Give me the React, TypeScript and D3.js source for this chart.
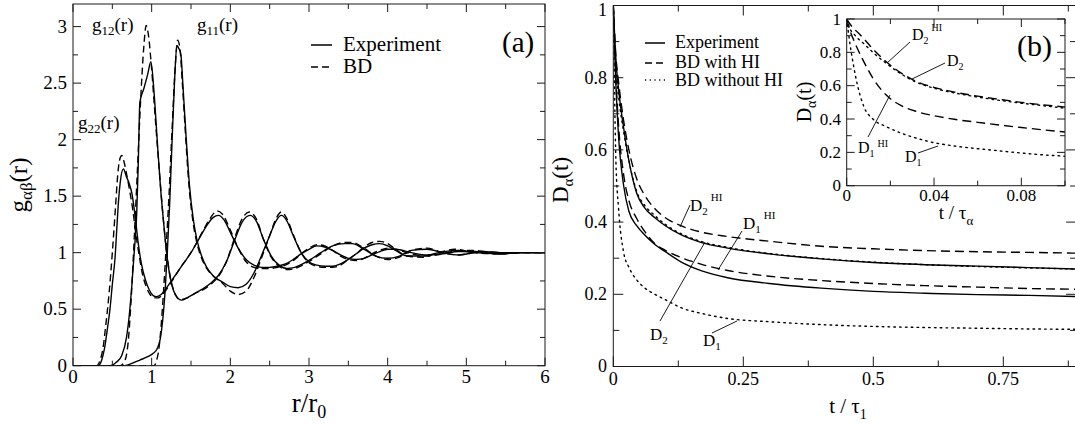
import * as d3 from "d3";

const serif = "'Liberation Serif', Tinos, 'Times New Roman', 'DejaVu Serif', serif";

// ---------- panel (a): partial pair correlations g_ab(r) vs r/r0 ----------
const g22Exp = [[0,0],[0.32,0],[0.36,0.04],[0.4,0.15],[0.44,0.34],[0.47,0.5],[0.5,0.72],[0.535,0.96],[0.56,1.25],[0.58,1.47],[0.6,1.62],[0.64,1.74],[0.68,1.67],[0.71,1.62],[0.75,1.52],[0.79,1.32],[0.83,1.08],[0.87,0.9],[0.92,0.76],[0.97,0.67],[1.02,0.62],[1.06,0.61],[1.12,0.63],[1.2,0.7],[1.3,0.8],[1.4,0.9],[1.5,1.0],[1.6,1.12],[1.7,1.24],[1.78,1.31],[1.85,1.33],[1.92,1.29],[2.0,1.18],[2.1,1.04],[2.2,0.94],[2.3,0.89],[2.4,0.87],[2.5,0.87],[2.6,0.88],[2.7,0.9],[2.8,0.94],[2.9,0.99],[3.0,1.03],[3.1,1.06],[3.2,1.05],[3.3,1.02],[3.4,0.98],[3.5,0.95],[3.6,0.94],[3.7,0.95],[3.8,0.98],[3.9,1.01],[4.0,1.03],[4.1,1.03],[4.3,1.0],[4.5,0.98],[4.7,0.99],[4.9,1.01],[5.1,1.01],[5.4,0.99],[5.7,1.0],[6,1.0]];
const g22BD = [[0,0],[0.3,0],[0.34,0.04],[0.38,0.15],[0.42,0.38],[0.46,0.65],[0.5,1.0],[0.54,1.4],[0.57,1.7],[0.6,1.84],[0.62,1.86],[0.65,1.8],[0.68,1.7],[0.72,1.55],[0.76,1.38],[0.8,1.16],[0.84,0.98],[0.88,0.82],[0.93,0.7],[0.98,0.63],[1.03,0.6],[1.08,0.6],[1.15,0.64],[1.25,0.74],[1.35,0.85],[1.45,0.95],[1.55,1.06],[1.65,1.19],[1.75,1.31],[1.83,1.37],[1.9,1.34],[2.0,1.2],[2.1,1.04],[2.2,0.92],[2.3,0.87],[2.4,0.86],[2.5,0.86],[2.6,0.87],[2.7,0.89],[2.8,0.93],[2.9,0.99],[3.0,1.04],[3.1,1.07],[3.2,1.06],[3.3,1.02],[3.4,0.97],[3.5,0.94],[3.6,0.93],[3.7,0.95],[3.8,0.99],[3.9,1.02],[4.0,1.04],[4.1,1.03],[4.3,0.99],[4.5,0.97],[4.7,0.99],[4.9,1.02],[5.1,1.02],[5.4,0.99],[5.7,1.0],[6,1.0]];
const g12Exp = [[0,0],[0.47,0],[0.55,0.03],[0.62,0.09],[0.68,0.25],[0.72,0.48],[0.75,0.73],[0.78,1.02],[0.81,1.35],[0.83,1.8],[0.85,2.33],[0.9,2.45],[0.95,2.58],[0.99,2.69],[1.03,2.42],[1.07,2.0],[1.11,1.6],[1.15,1.28],[1.19,1.0],[1.23,0.8],[1.28,0.66],[1.33,0.6],[1.38,0.58],[1.45,0.6],[1.55,0.64],[1.65,0.68],[1.75,0.73],[1.85,0.8],[1.95,0.92],[2.05,1.1],[2.15,1.27],[2.25,1.33],[2.33,1.28],[2.42,1.12],[2.52,0.97],[2.62,0.89],[2.72,0.86],[2.82,0.87],[2.92,0.9],[3.02,0.94],[3.15,1.0],[3.3,1.06],[3.45,1.08],[3.55,1.08],[3.7,1.03],[3.85,0.97],[4.0,0.95],[4.15,0.97],[4.3,1.02],[4.5,1.03],[4.7,1.0],[4.9,0.98],[5.2,1.01],[5.5,1.0],[6,1.0]];
const g12BD = [[0,0],[0.6,0],[0.65,0.03],[0.7,0.2],[0.74,0.6],[0.78,1.15],[0.82,1.75],[0.86,2.35],[0.9,2.82],[0.93,3.01],[0.96,2.92],[1.0,2.62],[1.05,2.15],[1.1,1.7],[1.15,1.28],[1.2,0.95],[1.25,0.74],[1.3,0.63],[1.36,0.585],[1.45,0.6],[1.55,0.64],[1.65,0.67],[1.75,0.72],[1.85,0.79],[1.95,0.92],[2.05,1.12],[2.15,1.3],[2.24,1.36],[2.33,1.3],[2.42,1.12],[2.52,0.96],[2.62,0.88],[2.72,0.85],[2.82,0.86],[2.92,0.89],[3.02,0.93],[3.15,0.99],[3.3,1.06],[3.45,1.09],[3.55,1.09],[3.7,1.04],[3.85,0.97],[4.0,0.94],[4.15,0.96],[4.3,1.02],[4.5,1.04],[4.7,1.0],[4.9,0.98],[5.2,1.01],[5.5,1.0],[6,1.0]];
const g11Exp = [[0,0],[0.66,0],[0.75,0.02],[0.85,0.05],[0.95,0.08],[1.02,0.11],[1.07,0.15],[1.11,0.24],[1.14,0.4],[1.17,0.65],[1.2,1.02],[1.23,1.45],[1.26,2.0],[1.29,2.5],[1.32,2.83],[1.35,2.8],[1.37,2.76],[1.4,2.45],[1.44,2.0],[1.48,1.6],[1.53,1.29],[1.58,1.1],[1.63,0.98],[1.7,0.87],[1.79,0.79],[1.9,0.74],[2.0,0.7],[2.1,0.69],[2.2,0.72],[2.3,0.82],[2.4,0.98],[2.5,1.15],[2.58,1.28],[2.65,1.33],[2.72,1.28],[2.8,1.15],[2.9,1.0],[3.0,0.92],[3.1,0.89],[3.2,0.88],[3.3,0.88],[3.4,0.9],[3.5,0.94],[3.6,0.99],[3.7,1.04],[3.8,1.07],[3.9,1.08],[4.0,1.06],[4.1,1.02],[4.25,0.97],[4.45,0.97],[4.65,1.0],[4.85,1.02],[5.1,1.0],[5.4,0.99],[5.7,1.0],[6,1.0]];
const g11BD = [[0,0],[1.03,0],[1.06,0.04],[1.09,0.14],[1.12,0.35],[1.15,0.65],[1.18,1.0],[1.22,1.5],[1.26,2.1],[1.3,2.65],[1.33,2.88],[1.36,2.8],[1.39,2.5],[1.43,2.05],[1.47,1.63],[1.52,1.3],[1.57,1.1],[1.63,0.96],[1.7,0.86],[1.79,0.79],[1.9,0.73],[2.0,0.66],[2.1,0.63],[2.2,0.66],[2.3,0.78],[2.4,0.96],[2.5,1.15],[2.58,1.3],[2.65,1.36],[2.72,1.3],[2.8,1.16],[2.9,1.0],[3.0,0.91],[3.1,0.88],[3.2,0.87],[3.3,0.87],[3.4,0.89],[3.5,0.94],[3.6,0.99],[3.7,1.05],[3.8,1.09],[3.9,1.1],[4.0,1.08],[4.1,1.03],[4.25,0.97],[4.45,0.96],[4.65,1.0],[4.85,1.03],[5.1,1.0],[5.4,0.99],[5.7,1.0],[6,1.0]];

// ---------- panel (b): D_a(t) vs t/tau1 ----------
const tMain = [0, 0.005, 0.01, 0.02, 0.03, 0.045, 0.06, 0.08, 0.1, 0.13, 0.17, 0.22, 0.3, 0.4, 0.5, 0.6, 0.7, 0.8, 0.89];
const d2Exp   = [1, 0.85, 0.77, 0.66, 0.57, 0.48, 0.44, 0.412, 0.39, 0.365, 0.343, 0.328, 0.312, 0.298, 0.288, 0.282, 0.278, 0.274, 0.27];
const d2HI    = [1, 0.86, 0.79, 0.68, 0.6, 0.52, 0.475, 0.437, 0.412, 0.39, 0.372, 0.36, 0.347, 0.333, 0.326, 0.321, 0.318, 0.316, 0.314];
const d2NoHI  = [1, 0.83, 0.75, 0.65, 0.57, 0.485, 0.447, 0.418, 0.394, 0.368, 0.346, 0.33, 0.313, 0.299, 0.289, 0.282, 0.277, 0.273, 0.27];
const d1Exp   = [1, 0.78, 0.64, 0.5, 0.43, 0.39, 0.365, 0.338, 0.318, 0.29, 0.265, 0.246, 0.23, 0.217, 0.208, 0.203, 0.199, 0.197, 0.194];
const d1HI    = [1, 0.8, 0.67, 0.53, 0.46, 0.41, 0.375, 0.34, 0.322, 0.302, 0.283, 0.266, 0.25, 0.238, 0.23, 0.224, 0.22, 0.216, 0.214];
const d1NoHI  = [1, 0.57, 0.44, 0.315, 0.275, 0.24, 0.218, 0.2, 0.185, 0.163, 0.147, 0.133, 0.124, 0.116, 0.111, 0.108, 0.106, 0.104, 0.103];

// inset: D_a(t) vs t/tau_a
const tInset = [0, 0.0015, 0.003, 0.005, 0.008, 0.012, 0.018, 0.025, 0.032, 0.04, 0.05, 0.06, 0.07, 0.08, 0.09, 0.1];
const in2HI   = [1, 0.97, 0.945, 0.92, 0.88, 0.82, 0.745, 0.675, 0.625, 0.59, 0.56, 0.537, 0.518, 0.5, 0.485, 0.472];
const in2NoHI = [1, 0.94, 0.915, 0.885, 0.85, 0.8, 0.735, 0.67, 0.62, 0.585, 0.555, 0.532, 0.512, 0.495, 0.48, 0.465];
const in1HI   = [1, 0.93, 0.88, 0.82, 0.74, 0.645, 0.545, 0.48, 0.445, 0.42, 0.397, 0.38, 0.364, 0.349, 0.335, 0.322];
const in1NoHI = [1, 0.85, 0.73, 0.6, 0.47, 0.4, 0.355, 0.315, 0.285, 0.258, 0.237, 0.222, 0.209, 0.196, 0.185, 0.177];

const aXLabels = [0, 1, 2, 3, 4, 5, 6];
const aYLabels = [0, 0.5, 1, 1.5, 2, 2.5, 3];
const bXLabels = [0, 0.25, 0.5, 0.75];
const bYLabels = [0, 0.2, 0.4, 0.6, 0.8, 1];
const iXLabels = [0, 0.04, 0.08];
const iYLabels = [0, 0.2, 0.4, 0.6, 0.8, 1];

const SOLID = undefined;
const DASH_A = "7,4";
const DASH_B = "9,5";
const DOT = "1.6,4.2";

const pair = (ts, ds) => ts.map((t, i) => [t, ds[i]]);

// box with inward ticks on all four sides
function Frame({ x, y, xMaj, xMin, yMaj, yMin, lMaj, lMin }) {
  const [l, r] = x.range();
  const [b, t] = y.range();
  const segs = [];
  const addX = (vals, len) => vals.forEach(v => {
    const px = x(v);
    segs.push([px, b, px, b - len], [px, t, px, t + len]);
  });
  const addY = (vals, len) => vals.forEach(v => {
    const py = y(v);
    segs.push([l, py, l + len, py], [r, py, r - len, py]);
  });
  addX(xMin, lMin); addX(xMaj, lMaj);
  addY(yMin, lMin); addY(yMaj, lMaj);
  return (
    <g stroke="#1a1a1a" strokeWidth={1} fill="none">
      {segs.map((s, i) => <line key={i} x1={s[0]} y1={s[1]} x2={s[2]} y2={s[3]} />)}
      <rect x={l} y={t} width={r - l} height={b - t} />
    </g>
  );
}

export default function App() {
  // panel (a)
  const ax = d3.scaleLinear().domain([0, 6]).range([73, 545]);
  const ay = d3.scaleLinear().domain([0, 3.2]).range([365.7, 4]);
  const lineA = d3.line().x(d => ax(d[0])).y(d => ay(d[1])).curve(d3.curveMonotoneX);

  // panel (b)
  const bx = d3.scaleLinear().domain([0, 0.89]).range([613.3, 1076.1]);
  const by = d3.scaleLinear().domain([0, 1]).range([366.5, 5.5]);
  const lineB = d3.line().x(d => bx(d[0])).y(d => by(d[1])).curve(d3.curveMonotoneX);

  // inset
  const ix = d3.scaleLinear().domain([0, 0.1]).range([846.7, 1065]);
  const iy = d3.scaleLinear().domain([0, 1]).range([185.7, 19]);
  const lineI = d3.line().x(d => ix(d[0])).y(d => iy(d[1])).curve(d3.curveMonotoneX);

  const curvesA = [
    [g22BD, DASH_A], [g12BD, DASH_A], [g11BD, DASH_A],
    [g22Exp, SOLID], [g12Exp, SOLID], [g11Exp, SOLID],
  ];
  const curvesB = [
    [d2NoHI, DOT], [d1NoHI, DOT],
    [d2HI, DASH_B], [d1HI, DASH_B],
    [d2Exp, SOLID], [d1Exp, SOLID],
  ];
  const curvesI = [
    [in2NoHI, DOT], [in1NoHI, DOT], [in2HI, DASH_B], [in1HI, DASH_B],
  ];

  const fmt = v => String(v);

  return (
    <svg width={1075} height={425}
      style={{ position: "absolute", left: 0, top: 0, background: "#fff", fontFamily: serif }}>
      <defs>
        <clipPath id="clipA"><rect x={73} y={4} width={472} height={361.7} /></clipPath>
        <clipPath id="clipB"><rect x={613.3} y={5.5} width={462.8} height={361} /></clipPath>
        <clipPath id="clipI"><rect x={846.7} y={19} width={218.3} height={166.7} /></clipPath>
      </defs>

      {/* ================= panel (a) ================= */}
      <g clipPath="url(#clipA)" fill="none" stroke="#000" strokeWidth={1.4}>
        {curvesA.map(([d, dash], i) => (
          <path key={i} d={lineA(d)} strokeDasharray={dash} strokeLinejoin="round" />
        ))}
      </g>
      <Frame x={ax} y={ay}
        xMaj={aXLabels} xMin={d3.range(0.5, 6, 1)}
        yMaj={aYLabels} yMin={d3.range(0.25, 3.2, 0.5)}
        lMaj={8} lMin={5} />
      <g fontSize={19} fill="#000">
        {aXLabels.map(v => <text key={v} x={ax(v)} y={383} textAnchor="middle">{fmt(v)}</text>)}
        {aYLabels.map(v => <text key={v} x={67} y={ay(v)} dy="0.33em" textAnchor="end">{fmt(v)}</text>)}
      </g>
      <text x={309} y={412} fontSize={27} textAnchor="middle">r/r<tspan fontSize={18} dy={6}>0</tspan></text>
      <text transform="translate(27,185) rotate(-90)" fontSize={25} textAnchor="middle">
        g<tspan fontSize={17} dy={5}>αβ</tspan><tspan dy={-5}>(r)</tspan>
      </text>
      {/* legend (a) */}
      <line x1={311} x2={332} y1={45} y2={45} stroke="#000" strokeWidth={1.5} />
      <line x1={311} x2={332} y1={67} y2={67} stroke="#000" strokeWidth={1.5} strokeDasharray={DASH_A} />
      <text x={343} y={51} fontSize={21}>Experiment</text>
      <text x={343} y={73} fontSize={21}>BD</text>
      <text x={502} y={52} fontSize={29}>(a)</text>
      <g fontSize={19}>
        <text x={92} y={31}>g<tspan fontSize={13} dy={4}>12</tspan><tspan dy={-4}>(r)</tspan></text>
        <text x={197} y={31}>g<tspan fontSize={13} dy={4}>11</tspan><tspan dy={-4}>(r)</tspan></text>
        <text x={78} y={129}>g<tspan fontSize={13} dy={4}>22</tspan><tspan dy={-4}>(r)</tspan></text>
      </g>

      {/* ================= panel (b) ================= */}
      <g clipPath="url(#clipB)" fill="none" stroke="#000" strokeWidth={1.4}>
        {curvesB.map(([d, dash], i) => (
          <path key={i} d={lineB(pair(tMain, d))} strokeDasharray={dash}
            strokeLinecap={dash === DOT ? "round" : "butt"} />
        ))}
      </g>
      <Frame x={bx} y={by}
        xMaj={bXLabels} xMin={d3.range(0.125, 0.89, 0.25)}
        yMaj={bYLabels} yMin={d3.range(0.1, 1, 0.2)}
        lMaj={10} lMin={6} />
      <g fontSize={18} fill="#000">
        {bXLabels.map(v => <text key={v} x={bx(v)} y={385} textAnchor="middle">{fmt(v)}</text>)}
        {bYLabels.map(v => (
          <text key={v} x={607} y={Math.max(by(v), 10)} dy="0.33em" textAnchor="end">{fmt(v)}</text>
        ))}
      </g>
      <text x={848} y={413} fontSize={21} textAnchor="middle">t / τ<tspan fontSize={14} dy={6}>1</tspan></text>
      <text transform="translate(568,180) rotate(-90)" fontSize={23} textAnchor="middle">
        D<tspan fontSize={15} dy={5}>α</tspan><tspan dy={-5}>(t)</tspan>
      </text>
      {/* legend (b) */}
      <line x1={645} x2={665} y1={43} y2={43} stroke="#000" strokeWidth={1.5} />
      <line x1={645} x2={665} y1={63} y2={63} stroke="#000" strokeWidth={1.5} strokeDasharray="7,4" />
      <line x1={645} x2={666} y1={80} y2={80} stroke="#000" strokeWidth={1.4} strokeDasharray="1.2,3.5" />
      <g fontSize={18}>
        <text x={675} y={48}>Experiment</text>
        <text x={675} y={68}>BD with HI</text>
        <text x={675} y={86}>BD without HI</text>
      </g>
      {/* annotations main (b) */}
      <g stroke="#000" strokeWidth={0.9}>
        <line x1={690} y1={205} x2={680} y2={227} />
        <line x1={742} y1={231} x2={718} y2={270} />
        <line x1={660} y1={321} x2={705} y2={242} />
        <line x1={712} y1={333} x2={737} y2={321} />
      </g>
      <g fontSize={17}>
        <text x={690} y={211}>D<tspan fontSize={11} dy={4}>2</tspan><tspan fontSize={11} dx={3} dy={-14}>HI</tspan></text>
        <text x={743} y={229}>D<tspan fontSize={11} dy={4}>1</tspan><tspan fontSize={11} dx={3} dy={-14}>HI</tspan></text>
        <text x={650} y={340}>D<tspan fontSize={11} dy={4}>2</tspan></text>
        <text x={703} y={346}>D<tspan fontSize={11} dy={4}>1</tspan></text>
      </g>

      {/* ================= inset ================= */}
      <rect x={846.7} y={19} width={218.3} height={166.7} fill="#fff" />
      <g clipPath="url(#clipI)" fill="none" stroke="#000" strokeWidth={1.4}>
        {curvesI.map(([d, dash], i) => (
          <path key={i} d={lineI(pair(tInset, d))} strokeDasharray={dash}
            strokeLinecap={dash === DOT ? "round" : "butt"} />
        ))}
      </g>
      <Frame x={ix} y={iy}
        xMaj={iXLabels} xMin={[0.02, 0.06, 0.1]}
        yMaj={iYLabels} yMin={d3.range(0.1, 1, 0.2)}
        lMaj={8} lMin={5} />
      <g fontSize={17} fill="#000">
        {iXLabels.map(v => <text key={v} x={ix(v)} y={201} textAnchor="middle">{fmt(v)}</text>)}
        {iYLabels.map(v => <text key={v} x={841} y={iy(v)} dy="0.33em" textAnchor="end">{fmt(v)}</text>)}
      </g>
      <text x={956} y={219} fontSize={19} textAnchor="middle">t / τ<tspan fontSize={13} dy={6}>α</tspan></text>
      <text transform="translate(811,102) rotate(-90)" fontSize={20} textAnchor="middle">
        D<tspan fontSize={14} dy={5}>α</tspan><tspan dy={-5}>(t)</tspan>
      </text>
      <text x={1017} y={56} fontSize={30}>(b)</text>
      <g stroke="#000" strokeWidth={0.9}>
        <line x1={910} y1={42} x2={887} y2={63} />
        <line x1={945} y1={63} x2={912} y2={79} />
        <line x1={868} y1={137} x2={890} y2={95} />
        <line x1={918} y1={153} x2={938} y2={146} />
      </g>
      <g fontSize={16}>
        <text x={912} y={40}>D<tspan fontSize={10} dy={4}>2</tspan><tspan fontSize={10} dx={3} dy={-13}>HI</tspan></text>
        <text x={947} y={66}>D<tspan fontSize={10} dy={4}>2</tspan></text>
        <text x={858} y={153}>D<tspan fontSize={10} dy={4}>1</tspan><tspan fontSize={10} dx={3} dy={-10}>HI</tspan></text>
        <text x={905} y={162}>D<tspan fontSize={10} dy={4}>1</tspan></text>
      </g>
    </svg>
  );
}
